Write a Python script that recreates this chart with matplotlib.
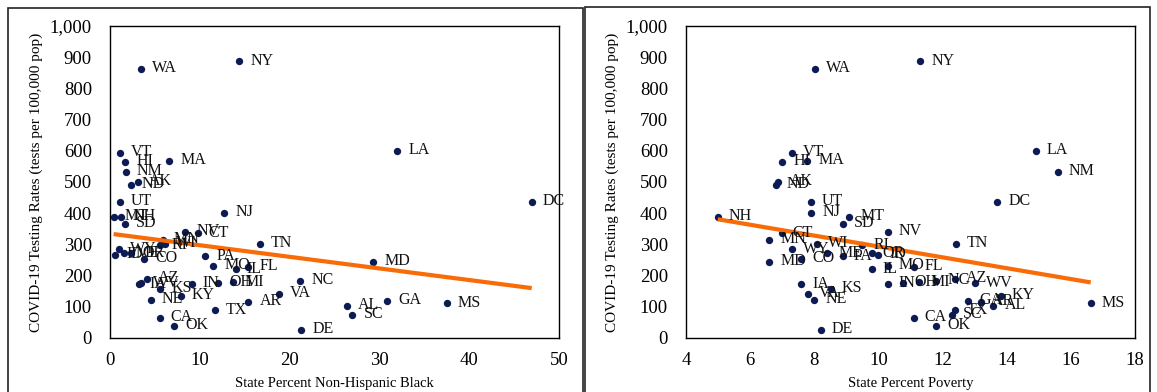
#!/usr/bin/env python3
# -*- coding: utf-8 -*-
"""
COVID-19 testing rates by state vs. percent non-Hispanic Black and percent poverty
"""

import numpy as np
import matplotlib
matplotlib.use("Agg")
import matplotlib.pyplot as plt
from matplotlib.patches import Rectangle
from matplotlib.ticker import FuncFormatter

plt.rcParams['font.family'] = ['Liberation Serif', 'DejaVu Serif']

states = ["WA", "NY", "VT", "HI", "MA", "NM", "ND", "AK", "LA", "UT",
          "NJ", "MT", "NH", "SD", "DC", "NV", "CT", "MN", "TN", "WI",
          "RI", "WY", "ME", "OR", "ID", "PA", "CO", "MD", "MO", "FL",
          "IL", "AZ", "NC", "WV", "OH", "MI", "IN", "IA", "KS", "VA",
          "KY", "NE", "GA", "AR", "MS", "AL", "TX", "SC", "CA", "OK", "DE"]

pct_black = [3.45, 14.4, 1.1, 1.67, 6.6, 1.75, 2.3, 3.1, 32.0, 1.1,
             12.7, 0.4, 1.25, 1.67, 46.96, 8.35, 9.76, 5.87, 16.7, 6.16,
             5.57, 1.0, 1.56, 2.34, 0.56, 10.6, 3.83, 29.3, 11.5, 15.4,
             14.0, 4.08, 21.2, 3.5, 12.06, 13.7, 9.1, 3.2, 5.57, 18.8,
             7.87, 4.56, 30.9, 15.4, 37.5, 26.4, 11.7, 27.0, 5.53, 7.16, 21.3]

pct_poverty = [8.02, 11.3, 7.30, 7.0, 7.78, 15.59, 6.80, 6.88, 14.9, 7.9,
               7.9, 9.09, 4.99, 8.89, 13.71, 10.29, 6.98, 6.59, 12.41, 8.09,
               9.5, 7.30, 8.41, 9.79, 10.0, 8.89, 7.58, 6.59, 10.29, 11.1,
               9.79, 12.39, 11.8, 13.0, 10.77, 11.27, 10.29, 7.6, 8.52, 7.79,
               13.81, 8.0, 12.8, 13.2, 16.62, 13.58, 12.4, 12.28, 11.1, 11.8, 8.2]

test_rate = [862, 887, 594, 565, 567, 532, 490, 500, 600, 436,
             401, 388, 388, 365, 436, 341, 335, 314, 301, 302,
             297, 284, 271, 271, 266, 262, 254, 244, 231, 228,
             220, 189, 184, 175, 177, 178, 174, 172, 157, 141,
             136, 123, 119, 116, 111, 103, 89, 74, 65, 40, 27]

W, H = 1157, 392
fig = plt.figure(figsize=(W / 100, H / 100), dpi=100)

# panel frames around each chart
fig.add_artist(Rectangle((8 / W, -0.1), (583 - 8) / W, 1.1 - 8 / H,
                         transform=fig.transFigure, fill=False,
                         edgecolor='#222222', linewidth=1.2))
fig.add_artist(Rectangle((585 / W, -0.1), (1150 - 585) / W, 1.1 - 7 / H,
                         transform=fig.transFigure, fill=False,
                         edgecolor='#222222', linewidth=1.2))

ax_bot = (H - 338) / H
ax_h = (338 - 26) / H
ax1 = fig.add_axes([110 / W, ax_bot, (559 - 110) / W, ax_h])
ax2 = fig.add_axes([686 / W, ax_bot, (1135 - 686) / W, ax_h])

panels = [
    (ax1, pct_black, "State Percent Non-Hispanic Black", (0, 50), 10),
    (ax2, pct_poverty, "State Percent Poverty", (4, 18), 2),
]

for ax, xs, xlabel, xlim, step in panels:
    x = np.array(xs)
    y = np.array(test_rate)
    ax.scatter(x, y, s=28, color='#0c1b54', zorder=2, linewidths=0)
    for st, xi, yi in zip(states, x, y):
        ax.annotate(st, (xi, yi), xytext=(8, 0.5), textcoords='offset points',
                    va='center', ha='left', fontsize=11.5, color='#111111',
                    zorder=4)
    slope, icpt = np.polyfit(x, y, 1)
    xx = np.array([x.min(), x.max()])
    ax.plot(xx, slope * xx + icpt, color='#f96b07', linewidth=3, zorder=3,
            solid_capstyle='butt')

    ax.set_xlim(*xlim)
    ax.set_ylim(0, 1000)
    ax.set_xticks(np.arange(xlim[0], xlim[1] + 0.01, step))
    ax.set_yticks(np.arange(0, 1001, 100))
    ax.yaxis.set_major_formatter(FuncFormatter(lambda v, p: f"{int(v):,}"))
    ax.tick_params(length=0, labelsize=13.5, pad=13)
    ax.tick_params(axis='x', pad=10)
    for sp in ax.spines.values():
        sp.set_linewidth(1.0)
        sp.set_color('black')
    ax.set_xlabel(xlabel, fontsize=10.5, labelpad=6)
    ax.set_ylabel("COVID-19 Testing Rates (tests per 100,000 pop)",
                  fontsize=11, labelpad=5)

fig.savefig("out.png", dpi=100)
